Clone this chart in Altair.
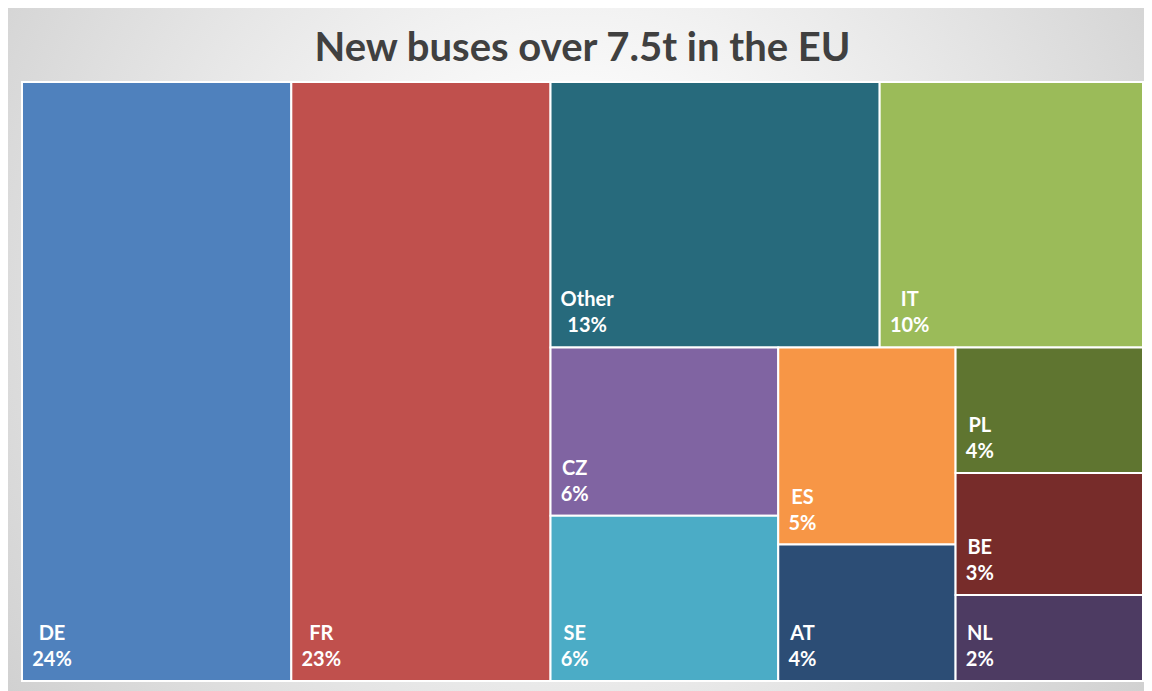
import altair as alt
import pandas as pd

# ---- data (share of new buses over 7.5t, %) ----
countries = ["DE", "FR", "Other", "IT", "CZ", "SE", "ES", "AT", "PL", "BE", "NL"]
shares = [24.0, 23.1, 13.0, 10.4, 5.7, 5.6, 5.2, 3.6, 3.5, 3.4, 2.4]
colors = ["#4F81BD", "#C0504D", "#276A7C", "#9BBB59", "#8064A2", "#4BACC6",
          "#F79646", "#2C4D75", "#5F7530", "#772C2A", "#4D3B62"]
title_text = "New buses over 7.5t in the EU"

# treemap nesting (h = side by side, v = stacked), as laid out in the reference
structure = ("h", ["DE", "FR",
                   ("v", [("h", ["Other", "IT"]),
                          ("h", [("v", ["CZ", "SE"]),
                                 ("v", ["ES", "AT"]),
                                 ("v", ["PL", "BE", "NL"])])])])

W, H = 1121, 599   # plot area, layout units = pixels
value = dict(zip(countries, shares))


def size(node):
    if isinstance(node, str):
        return value[node]
    return sum(size(c) for c in node[1])


def layout(node, x0, y0, x1, y1, out):
    if isinstance(node, str):
        out[node] = (x0, y0, x1, y1)
        return
    d, children = node
    tot = sum(size(c) for c in children)
    pos = x0 if d == "h" else y0
    for c in children:
        f = size(c) / tot
        if d == "h":
            w = (x1 - x0) * f
            layout(c, pos, y0, pos + w, y1, out)
        else:
            w = (y1 - y0) * f
            layout(c, x0, pos, x1, pos + w, out)
        pos += w


rects = {}
layout(structure, 0, 0, W, H, rects)
total = sum(shares)

FS = 20
cw = {"I": 0.29, "T": 0.56, "O": 0.78, "%": 0.84, "t": 0.37, "h": 0.57,
      "e": 0.54, "r": 0.40}


def tw(s):
    w = 0
    for ch in s:
        if ch in cw:
            w += cw[ch]
        elif ch.isdigit():
            w += 0.58
        elif ch.isupper():
            w += 0.66
        else:
            w += 0.55
    return w * FS


rows = []
for c, v, col in zip(countries, shares, colors):
    x0, y0, x1, y1 = rects[c]
    pct = f"{round(v / total * 100)}%"
    block = max(tw(c), tw(pct))
    rows.append(dict(name=c, pct=pct, x0=x0, x1=x1, y0=y0, y1=y1,
                     lx=x0 + 10 + block / 2, color=col))
df = pd.DataFrame(rows)

xs = alt.Scale(domain=[0, W], nice=False, zero=False)
ys = alt.Scale(domain=[0, H], nice=False, zero=False, reverse=True)

one = pd.DataFrame({"t": [title_text]})

bg = alt.Chart(one).mark_rect(
    color=alt.RadialGradient(
        gradient="radial", x1=0.5, y1=0.45, r1=0.0, x2=0.5, y2=0.45, r2=0.75,
        stops=[alt.GradientStop(color="#ffffff", offset=0),
               alt.GradientStop(color="#ffffff", offset=0.15),
               alt.GradientStop(color="#c4c4c4", offset=1)])
).encode(x=alt.value(-14), x2=alt.value(W + 1), y=alt.value(-74), y2=alt.value(H + 10))

title = alt.Chart(one).mark_text(
    font="Lato", fontWeight="bold", fontSize=40, color="#404040",
    align="center", baseline="alphabetic"
).encode(x=alt.value(W / 2), y=alt.value(-21), text="t:N")

tiles = alt.Chart(df).mark_rect(stroke="white", strokeWidth=2).encode(
    x=alt.X("x0:Q", scale=xs, axis=None),
    x2="x1:Q",
    y=alt.Y("y0:Q", scale=ys, axis=None),
    y2="y1:Q",
    color=alt.Color("color:N", scale=None),
)

names = alt.Chart(df).mark_text(
    font="Lato", fontWeight="bold", fontSize=FS, color="white",
    align="center", baseline="alphabetic", dy=-41
).encode(x=alt.X("lx:Q", scale=xs), y=alt.Y("y1:Q", scale=ys), text="name:N")

pcts = alt.Chart(df).mark_text(
    font="Lato", fontWeight="bold", fontSize=FS, color="white",
    align="center", baseline="alphabetic", dy=-15
).encode(x=alt.X("lx:Q", scale=xs), y=alt.Y("y1:Q", scale=ys), text="pct:N")

chart = alt.layer(bg, title, tiles, names, pcts).properties(
    width=W, height=H,
    autosize="none",
    padding={"left": 14, "top": 74, "right": 1, "bottom": 10},
).configure_view(stroke=None).configure(background="white")

chart.save("out.html", embed_options={"renderer": "svg", "actions": False})
